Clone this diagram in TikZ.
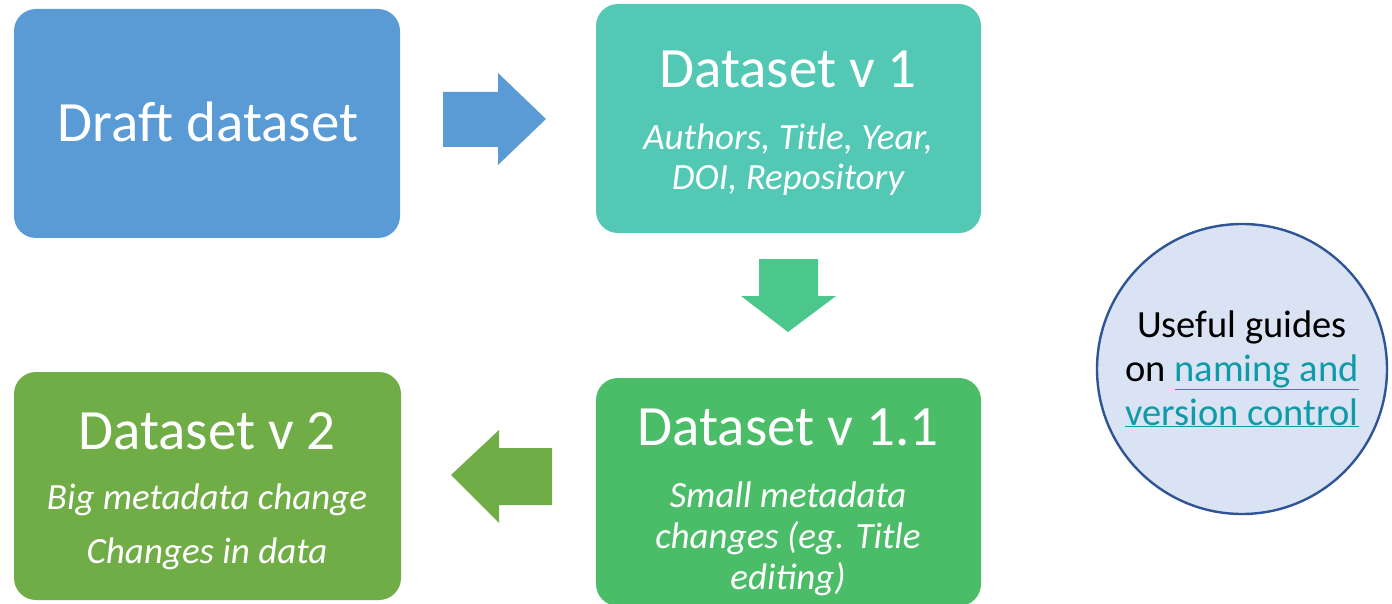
\documentclass[tikz,border=0pt]{standalone}
\usepackage{fontspec}
\setmainfont{Carlito}
\definecolor{cblue}{HTML}{5B9BD5}
\definecolor{cteal}{HTML}{52C8B5}
\definecolor{cgreen}{HTML}{4BBD68}
\definecolor{colive}{HTML}{70AD47}
\definecolor{cdown}{HTML}{4BC68C}
\definecolor{ccircle}{HTML}{DAE3F3}
\definecolor{cborder}{HTML}{2F5597}
\definecolor{clink}{HTML}{0E9AA7}
\tikzset{
  box/.style={rounded corners=22pt},
  big/.style={text=white,anchor=base,inner sep=0pt,font=\fontsize{57}{60}\selectfont},
  sub/.style={text=white,anchor=base,inner sep=0pt,font=\fontsize{37}{40}\selectfont\itshape},
  ctext/.style={text=black,anchor=base,inner sep=0pt,font=\fontsize{38.5}{42}\selectfont},
}
\newcommand{\lnk}[1]{\textcolor{clink}{\underline{#1}}}
\begin{document}
\begin{tikzpicture}[x=1pt,y=-1pt]
\useasboundingbox (0,0) rectangle (1392,604);
% boxes
\fill[cblue,box] (14,9) rectangle (400,238);
\fill[cteal,box] (596,4) rectangle (981,233);
\fill[cgreen,box] (596,378) rectangle (981,606);
\fill[colive,box] (14,372) rectangle (401,600);
% arrows
\fill[cblue] (443,92) -- (498,92) -- (498,73) -- (546,119) -- (498,165) -- (498,147) -- (443,147) -- cycle;
\fill[cdown] (759,259) -- (818,259) -- (818,296) -- (836,296) -- (788,332) -- (741,296) -- (759,296) -- cycle;
\fill[colive] (552,448) -- (499,448) -- (499,430) -- (451,475) -- (499,523) -- (499,505) -- (552,505) -- cycle;
% circle
\draw[cborder,fill=ccircle,line width=2.4pt] (1242,369) circle (145);
% texts
\node[big] (t1) at (208,142) {Draft dataset};
\node[big] (t2) at (788,88) {Dataset v 1};
\node[sub] (s2a) at (788,150) {Authors, Title, Year,};
\node[sub] (s2b) at (788,190) {DOI, Repository};
\node[big] (t3) at (788,445) {Dataset v 1.1};
\node[sub] (s3a) at (788,507) {Small metadata};
\node[sub] (s3b) at (788,548) {changes (eg. Title};
\node[sub] (s3c) at (788,589) {editing)};
\node[big] (t4) at (207,449) {Dataset v 2};
\node[sub] (s4a) at (207,509) {Big metadata change};
\node[sub] (s4b) at (207,563) {Changes in data};
\node[ctext] (c1) at (1242,337) {Useful guides};
\node[ctext] (c2) at (1242,381) {on \lnk{naming and}};
\node[ctext] (c3) at (1242,425) {\lnk{version control}};
\end{tikzpicture}
\end{document}
